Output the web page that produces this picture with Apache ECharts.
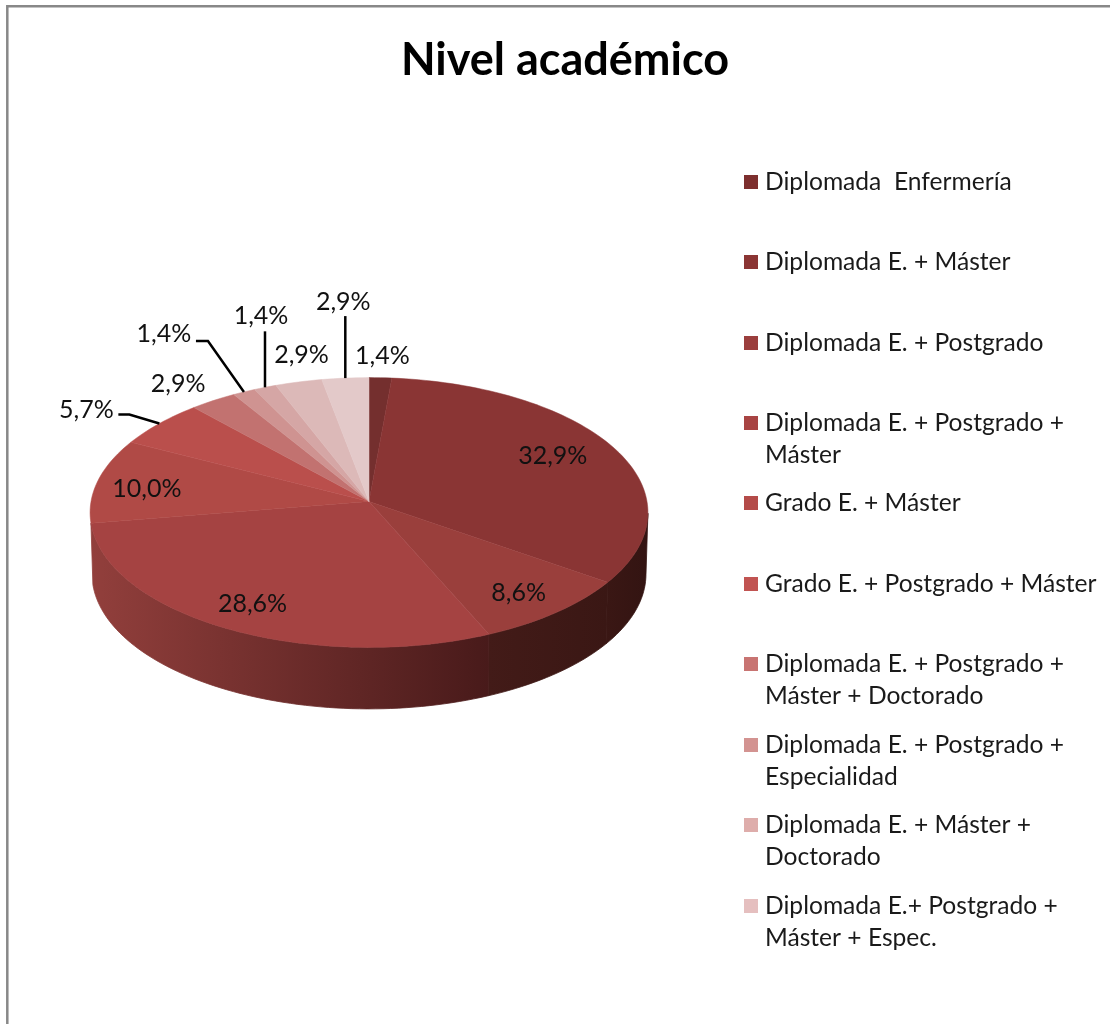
<!DOCTYPE html>
<html>
<head>
<meta charset="utf-8">
<style>html,body{margin:0;padding:0;background:#fff}#c{width:1110px;height:1024px}</style>
<script src="https://cdn.jsdelivr.net/npm/echarts@6/dist/echarts.min.js"></script>
</head>
<body>
<div id="c"></div>
<script>
// ---- data ----
const chartTitle = 'Nivel académico';
const categories = [
  'Diplomada  Enfermería',
  'Diplomada E. + Máster',
  'Diplomada E. + Postgrado',
  'Diplomada E. + Postgrado +\nMáster',
  'Grado E. + Máster',
  'Grado E. + Postgrado + Máster',
  'Diplomada E. + Postgrado +\nMáster + Doctorado',
  'Diplomada E. + Postgrado +\nEspecialidad',
  'Diplomada E. + Máster +\nDoctorado',
  'Diplomada E.+ Postgrado +\nMáster + Espec.',
  'Otra titulación'
];
const values = [1.4, 32.9, 8.6, 28.6, 10.0, 5.7, 2.9, 1.4, 1.4, 2.9, 2.9];
const legendCount = 10; // the reference's legend lists the first ten only

// ---- styles and layout ----
const fontFamily = 'Lato, "Open Sans", sans-serif';
const topColors = ['#742f2e','#8a3534','#9a3f3c','#a54342','#b04a46','#ba4f4c','#c27270','#cf9391','#d5a6a5','#dcb9b8','#e3c9c9'];
const legendColors = ['#7d2f2e','#8b3534','#9b3e3d','#a84443','#b44b49','#c15452','#c87472','#d39391','#deadab','#e5bfbf','#e3c9c9'];
// left colour, right colour of each visible side wall
const wallStops = {
  1: ['#3a1714','#331412'],
  2: ['#431b18','#3a1714'],
  3: ['#923f3c','#481a1a']
};
const legendFirstLineY = [182, 262, 343, 423, 503, 584, 664, 745, 825, 906];
const pie = { cx: 369, apexY: 501.5, a: 278, b: 134, k: 0.0816, depth: 61.5, bottomScale: 0.993 };
const wallFrom = 95, wallTo = 265;
// label offset from the slice's rim midpoint; leader = offsets from the same rim point
const labelOffset = [[2,-22],[-60,9],[-38,-19.5],[27,-24],[49,8],[-73,-14],[-35,-17],[-80,-58],[-4,-71],[3,-27],[-2,-76]];
const leaders = {
  5: [[-41,-9],[-30,-9],[0,0]],
  7: [[-48,-51],[-36,-51],[0,0]],
  8: [[0,-56],[0,0]],
  10: [[0,-62],[0,0]]
};

// ---- geometry ----
const total = values.reduce((s, v) => s + v, 0);
function project(deg, lower) {
  const t = deg * Math.PI / 180, u = Math.sin(t), v = -Math.cos(t), w = 1 - pie.k * v;
  const s = lower ? pie.bottomScale : 1;
  return [pie.cx + s * pie.a * u / w, pie.apexY + pie.b * v / w + (lower ? pie.depth : 0)];
}
function arc(a0, a1, lower) {
  const n = Math.max(2, Math.ceil(Math.abs(a1 - a0) / 1.5)), pts = [];
  for (let i = 0; i <= n; i++) pts.push(project(a0 + (a1 - a0) * i / n, lower));
  return pts;
}
function startAngle(i) {
  let s = 0;
  for (let j = 0; j < i; j++) s += values[j];
  return s / total * 360;
}
const fmt = v => v.toFixed(1).replace('.', ',') + '%';

function renderSlice(index) {
  return function (params, api) {
    const val = api.value(0);
    const a0 = startAngle(index), a1 = a0 + val / total * 360;
    const children = [];
    const w0 = Math.max(a0, wallFrom), w1 = Math.min(a1, wallTo);
    if (w1 > w0 && wallStops[index]) {
      const stops = wallStops[index];
      const pts = arc(w0, w1, false).concat(arc(w1, w0, true));
      const grad = { type: 'linear', x: 0, y: 0, x2: 1, y2: 0,
        colorStops: [{ offset: 0, color: stops[0] }, { offset: 1, color: stops[1] }] };
      children.push({
        type: 'polygon', silent: true, z2: 1,
        shape: { points: pts },
        style: { fill: grad, stroke: grad, lineWidth: 0.8 }
      });
    }
    const top = [[pie.cx, pie.apexY]].concat(arc(a0, a1, false));
    children.push({
      type: 'polygon', silent: true, z2: 2,
      shape: { points: top },
      style: { fill: topColors[index], stroke: topColors[index], lineWidth: 0.5 }
    });
    const rim = project((a0 + a1) / 2, false);
    if (leaders[index]) {
      children.push({
        type: 'polyline', silent: true, z2: 5,
        shape: { points: leaders[index].map(o => [rim[0] + o[0], rim[1] + o[1]]) },
        style: { fill: null, stroke: '#000', lineWidth: 2.5 }
      });
    }
    const off = labelOffset[index];
    children.push({
      type: 'text', silent: true, z2: 10,
      x: rim[0] + off[0], y: rim[1] + off[1],
      style: { text: fmt(val), fontFamily, fontSize: 25, fill: '#111', align: 'center', verticalAlign: 'middle' }
    });
    return { type: 'group', children };
  };
}

const chart = echarts.init(document.getElementById('c'), null, { renderer: 'canvas', width: 1110, height: 1024 });
const singleIcon = 'path://M0 0H14V14H0Z';
const doubleIcon = 'path://M0 0H14V14H0Z M0 46L14 46';
chart.setOption({
  animation: false,
  backgroundColor: '#fff',
  title: {
    text: chartTitle, left: 560, top: 33, textAlign: 'center',
    textStyle: { fontFamily, fontSize: 45, fontWeight: 'bold', color: '#000' }
  },
  graphic: [{
    type: 'rect', silent: true, z: -1,
    shape: { x: 7.3, y: 6.2, width: 2000, height: 2000 },
    style: { fill: '#fff', stroke: '#888', lineWidth: 2.5 }
  }],
  legend: categories.slice(0, legendCount).map((name, i) => {
    const two = name.indexOf('\n') >= 0;
    return {
      data: [name], left: 744, top: legendFirstLineY[i] - 16, padding: 0,
      selectedMode: false, itemWidth: 14, itemHeight: two ? 46 : 14, itemGap: 0,
      icon: two ? doubleIcon : singleIcon,
      textStyle: { fontFamily, fontSize: 24.6, lineHeight: 32, color: '#1a1a1a', padding: [0, 0, 0, 2] }
    };
  }),
  series: categories.map((name, i) => ({
    type: 'custom', name,
    coordinateSystem: 'none',
    renderItem: renderSlice(i),
    itemStyle: { color: legendColors[i] },
    data: [[values[i]]],
    silent: true
  }))
});
</script>
</body>
</html>
